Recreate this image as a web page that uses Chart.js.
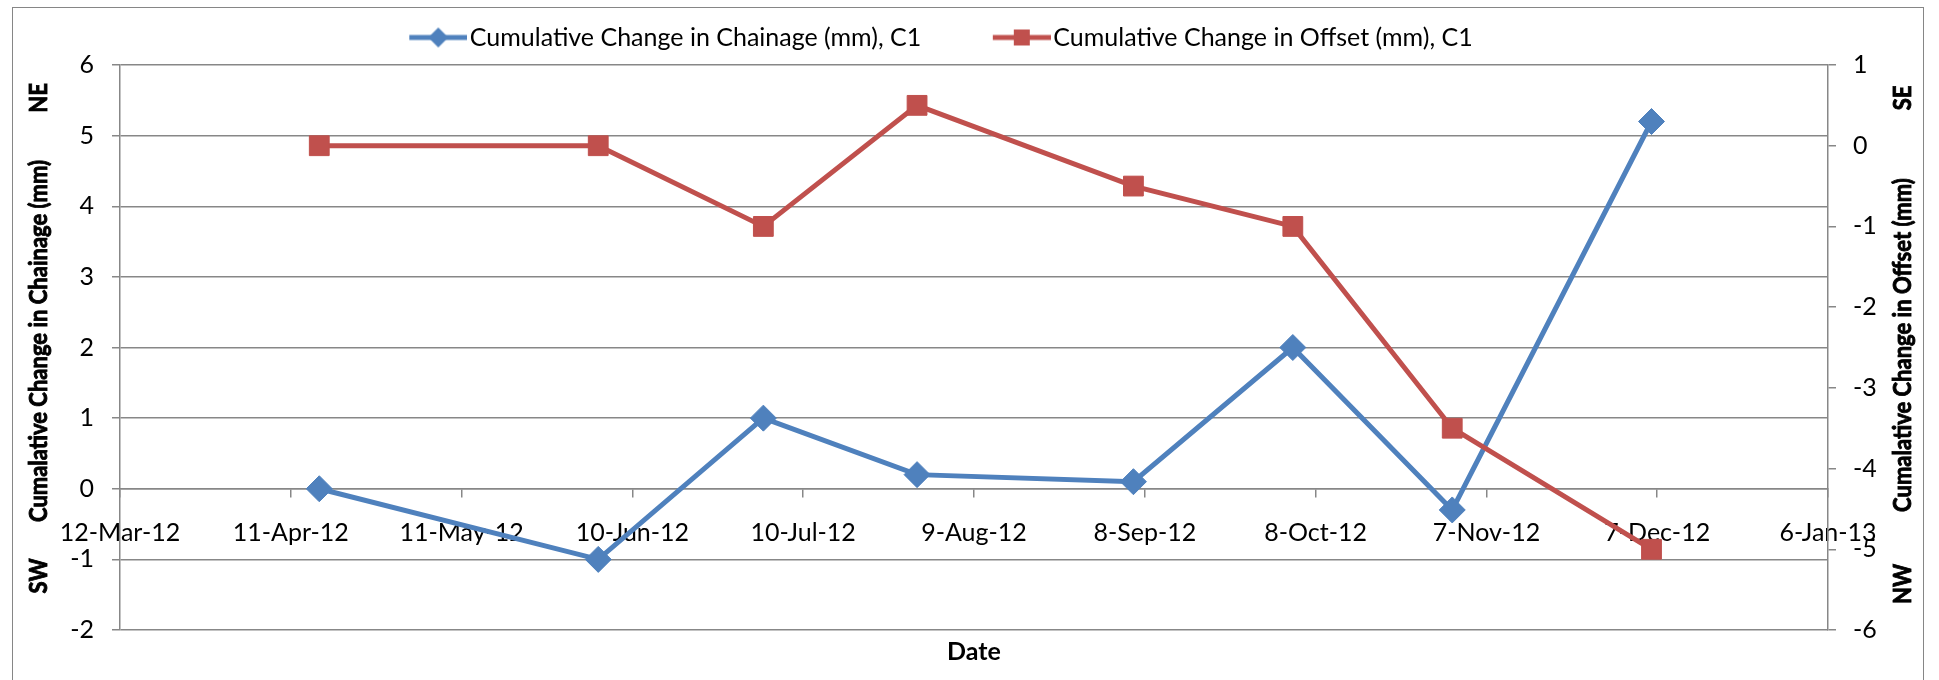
<!DOCTYPE html>
<html>
<head>
<meta charset="utf-8">
<script src="https://cdn.jsdelivr.net/npm/chart.js@4.4.1/dist/chart.umd.min.js"></script>
<style>
  html, body { margin: 0; padding: 0; background: #fff; overflow: hidden; }
  #wrap { position: relative; width: 1939px; height: 680px; }
  #frame { position: absolute; left: 12px; top: 7px; width: 1912px; height: 720px;
           box-sizing: border-box; border: 1.5px solid #868686; }
  #c { position: absolute; left: 0; top: 0; }
</style>
</head>
<body>
<div id="wrap">
  <div id="frame"></div>
  <canvas id="c" width="1939" height="680"></canvas>
</div>
<script>
// survey dates and readings
const sampleDates = ["2012-04-16", "2012-06-04", "2012-07-03", "2012-07-30",
                     "2012-09-06", "2012-10-04", "2012-11-01", "2012-12-06"];
const chainageMm = [0, -1, 1, 0.2, 0.1, 2, -0.3, 5.2];
const offsetMm = [0, 0, -1, 0.5, -0.5, -1, -3.5, -5];
const seriesNames = ["Cumulative Change in Chainage (mm), C1",
                     "Cumulative Change in Offset (mm), C1"];

// axis ticks
const dateTicks = ["2012-03-12", "2012-04-11", "2012-05-11", "2012-06-10", "2012-07-10",
                   "2012-08-09", "2012-09-08", "2012-10-08", "2012-11-07", "2012-12-07", "2013-01-06"];
const chainageRange = [-2, 6];
const offsetRange = [-6, 1];

const BLUE = "#4F81BD";
const RED = "#C0504D";
const GRID = "#878787";
const FONT = "Lato";
const FS = 25;
const MONTHS = ["Jan", "Feb", "Mar", "Apr", "May", "Jun", "Jul", "Aug", "Sep", "Oct", "Nov", "Dec"];

function dayOf(s) {
  const [y, m, d] = s.split("-").map(Number);
  return Date.UTC(y, m - 1, d) / 86400000;
}
function fmtDate(day) {
  const d = new Date(Math.round(day) * 86400000);
  return d.getUTCDate() + "-" + MONTHS[d.getUTCMonth()] + "-" + String(d.getUTCFullYear()).slice(2);
}

// legend icon: line with the marker in the middle
function legendIcon(color, shape) {
  const cv = document.createElement("canvas");
  cv.width = 72; cv.height = 24;
  const g = cv.getContext("2d");
  g.strokeStyle = color; g.fillStyle = color; g.lineWidth = 5;
  g.beginPath(); g.moveTo(14, 12); g.lineTo(72, 12); g.stroke();
  const cx = 43, cy = 12;
  g.beginPath();
  if (shape === "diamond") {
    g.moveTo(cx, cy - 10); g.lineTo(cx + 10, cy); g.lineTo(cx, cy + 10); g.lineTo(cx - 10, cy);
    g.closePath();
  } else {
    g.rect(cx - 8, cy - 8, 16, 16);
  }
  g.fill();
  return cv;
}
const icons = [legendIcon(BLUE, "diamond"), legendIcon(RED, "square")];

// vertical axis titles read bottom-to-top on both sides
const titlesPlugin = {
  id: "sideTitles",
  afterInit(chart) {
    const leg = chart.legend;
    const fit = leg.fit.bind(leg);
    leg.fit = () => { fit(); leg.height += 5; };
  },
  afterDraw(chart) {
    const { ctx } = chart;
    const parts = [
      { x: 39, items: [["NE", 98], ["Cumalative Change in Chainage (mm)", 341], ["SW", 576]] },
      { x: 1903, items: [["SE", 98], ["Cumalative Change in Offset (mm)", 345], ["NW", 584]] }
    ];
    ctx.save();
    ctx.font = `bold ${FS}px ${FONT}`;
    ctx.fillStyle = "#000";
    ctx.strokeStyle = "#000";
    ctx.lineWidth = 0.9;
    ctx.textAlign = "center";
    ctx.textBaseline = "middle";
    parts.forEach((p) => {
      p.items.forEach(([txt, y]) => {
        ctx.save();
        ctx.translate(p.x, y);
        ctx.rotate(-Math.PI / 2);
        ctx.scale(0.88, 1);
        ctx.fillText(txt, 0, 0);
        ctx.strokeText(txt, 0, 0);
        ctx.restore();
      });
    });
    ctx.restore();
  }
};

const ctx0 = document.getElementById("c").getContext("2d");
ctx0.font = `${FS}px ${FONT}`;
const gapSpaces = Math.round(58 / ctx0.measureText(" ").width);

const chart = new Chart(document.getElementById("c"), {
  type: "line",
  data: {
    datasets: [
      {
        label: seriesNames[0],
        data: sampleDates.map((d, i) => ({ x: dayOf(d), y: chainageMm[i] })),
        yAxisID: "y",
        borderColor: BLUE,
        backgroundColor: BLUE,
        borderWidth: 5,
        pointStyle: "rectRot",
        pointRadius: 13,
        pointBorderWidth: 1,
        tension: 0,
        order: 1
      },
      {
        label: seriesNames[1],
        data: sampleDates.map((d, i) => ({ x: dayOf(d), y: offsetMm[i] })),
        yAxisID: "y2",
        borderColor: RED,
        backgroundColor: RED,
        borderWidth: 5,
        pointStyle: "rect",
        pointRadius: 14,
        pointBorderWidth: 1,
        tension: 0,
        order: 0
      }
    ]
  },
  options: {
    responsive: false,
    animation: false,
    layout: { padding: { left: 0, right: 61, top: 15, bottom: 50 } },
    plugins: {
      tooltip: { enabled: false },
      legend: {
        position: "top",
        labels: {
          font: { family: FONT, size: FS },
          color: "#000",
          usePointStyle: true,
          pointStyleWidth: 52,
          padding: 10,
          sort: (a, b) => a.datasetIndex - b.datasetIndex,
          generateLabels(chart) {
            const items = Chart.defaults.plugins.legend.labels.generateLabels(chart);
            items.forEach((it) => {
              it.pointStyle = icons[it.datasetIndex];
              if (it.datasetIndex === 0) it.text += " ".repeat(gapSpaces);
            });
            return items;
          }
        }
      }
    },
    scales: {
      x: {
        type: "linear",
        position: { y: 0 },
        min: dayOf(dateTicks[0]),
        max: dayOf(dateTicks[dateTicks.length - 1]),
        afterBuildTicks(scale) {
          scale.ticks = dateTicks.map((s) => ({ value: dayOf(s) }));
        },
        ticks: {
          autoSkip: false,
          maxRotation: 0,
          padding: 21,
          color: "#000",
          font: { family: FONT, size: FS },
          callback: (v) => fmtDate(v)
        },
        grid: { drawOnChartArea: false, drawTicks: true, tickLength: 8, color: GRID, lineWidth: 1.5 },
        border: { color: GRID, width: 1.5 },
        title: {
          display: true,
          text: "Date",
          color: "#000",
          font: { family: FONT, size: FS, weight: "bold" },
          padding: { top: 68, bottom: 0 }
        }
      },
      y: {
        position: "left",
        min: chainageRange[0],
        max: chainageRange[1],
        ticks: { stepSize: 1, padding: 18, color: "#000", font: { family: FONT, size: FS } },
        grid: { color: GRID, lineWidth: 1.5, tickLength: 8 },
        border: { color: GRID, width: 1.5 },
        afterFit(scale) { scale.width = 120; }
      },
      y2: {
        position: "right",
        min: offsetRange[0],
        max: offsetRange[1],
        ticks: { stepSize: 1, padding: 17, color: "#000", font: { family: FONT, size: FS } },
        grid: { drawOnChartArea: false, color: GRID, lineWidth: 1.5, tickLength: 8 },
        border: { color: GRID, width: 1.5 },
        afterFit(scale) { scale.width = 50; }
      }
    }
  },
  plugins: [titlesPlugin]
});
</script>
</body>
</html>
